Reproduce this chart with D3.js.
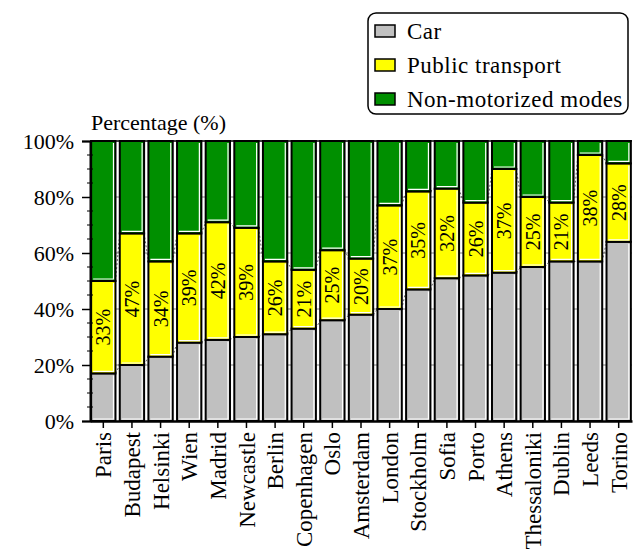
<!DOCTYPE html>
<html>
<head>
<meta charset="utf-8">
<script src="https://cdn.jsdelivr.net/npm/d3@7"></script>
<style>
  html, body { margin: 0; padding: 0; background: #fff; }
  svg { display: block; }
  svg text { font-family: "Liberation Serif", "DejaVu Serif", serif !important; fill: #000; }
</style>
</head>
<body>
<svg id="chart" width="640" height="552"></svg>
<script>
const cities = ["Paris","Budapest","Helsinki","Wien","Madrid","Newcastle","Berlin","Copenhagen","Oslo","Amsterdam","London","Stockholm","Sofia","Porto","Athens","Thessaloniki","Dublin","Leeds","Torino"];
const carShare = [17,20,23,28,29,30,31,33,36,38,40,47,51,52,53,55,57,57,64];
const publicShare = [33,47,34,39,42,39,26,21,25,20,37,35,32,26,37,25,21,38,28];
const nonMotorShare = carShare.map((c, i) => 100 - c - publicShare[i]);
const seriesNames = ["Car", "Public transport", "Non-motorized modes"];
const seriesColors = ["#c0c0c0", "#ffff00", "#008f00"];
const yTicks = [0, 20, 40, 60, 80, 100];
const yMinorTicks = d3.range(0, 101, 5);
const yTitle = "Percentage (%)";

const svg = d3.select("#chart");
const mLeft = 90, mRight = 632, mTop = 141, mBottom = 421;

const x = d3.scaleBand().domain(cities).range([mLeft, mRight]).paddingInner(0.15).paddingOuter(0.04);
const y = d3.scaleLinear().domain([0, 100]).range([mBottom, mTop]);
const bw = x.bandwidth();

// gridlines
svg.append("g").selectAll("line").data(yTicks.filter(t => t > 0 && t < 100)).join("line")
  .attr("x1", mLeft).attr("x2", mRight).attr("y1", d => y(d)).attr("y2", d => y(d))
  .attr("stroke", "#808080").attr("stroke-width", 1);
svg.append("line").attr("x1", mLeft).attr("x2", mRight).attr("y1", y(100)).attr("y2", y(100))
  .attr("stroke", "#000").attr("stroke-width", 1.5);

// stacked data
const rows = cities.map((c, i) => ({ city: c, values: [carShare[i], publicShare[i], nonMotorShare[i]] }));
const segs = [];
rows.forEach(r => {
  let acc = 0;
  r.values.forEach((v, k) => { segs.push({ city: r.city, k, y0: acc, y1: acc + v, v }); acc += v; });
});

// series (dashed) lines connecting tops of car and public transport
const lineGroup = svg.append("g");
[0, 1].forEach(k => {
  for (let i = 0; i < cities.length - 1; i++) {
    const a = k === 0 ? carShare[i] : carShare[i] + publicShare[i];
    const b = k === 0 ? carShare[i + 1] : carShare[i + 1] + publicShare[i + 1];
    lineGroup.append("line")
      .attr("x1", x(cities[i]) + bw).attr("y1", y(a))
      .attr("x2", x(cities[i + 1])).attr("y2", y(b))
      .attr("stroke", "#666").attr("stroke-width", 1).attr("stroke-dasharray", "2,2");
  }
});

const barG = svg.append("g");
barG.selectAll("rect").data(segs).join("rect")
  .attr("x", d => x(d.city)).attr("y", d => y(d.y1))
  .attr("width", bw).attr("height", d => y(d.y0) - y(d.y1))
  .attr("fill", d => seriesColors[d.k])
  .attr("stroke", "#000").attr("stroke-width", 2);
// inner white highlight on right and bottom
barG.selectAll("path").data(segs).join("path")
  .attr("d", d => {
    const x0 = x(d.city), xr = x0 + bw - 2, yt = y(d.y1) + 2, yb = y(d.y0) - 2;
    return `M${x0 + 2},${yb}L${xr},${yb}L${xr},${yt}`;
  })
  .attr("fill", "none").attr("stroke", "#fff").attr("stroke-width", 1.2);

// public transport labels
svg.append("g").selectAll("text").data(segs.filter(d => d.k === 1)).join("text")
  .attr("transform", d => `translate(${x(d.city) + bw / 2},${y((d.y0 + d.y1) / 2)}) rotate(-90)`)
  .attr("text-anchor", "middle").attr("dy", "0.35em")
  .attr("font-size", 20)
  .text(d => d.v + "%");

// y axis
const yAxis = svg.append("g").attr("transform", `translate(${mLeft},0)`)
  .call(d3.axisLeft(y).tickValues(yTicks).tickFormat(d => d + "%").tickSize(8).tickPadding(8));
yAxis.attr("font-family", null);
yAxis.select(".domain").attr("stroke-width", 2);
yAxis.selectAll(".tick line").attr("stroke-width", 1.5);
yAxis.selectAll(".tick text").attr("font-size", 22);
svg.append("g").selectAll("line").data(yMinorTicks.filter(t => t % 20 !== 0)).join("line")
  .attr("x1", mLeft - 3).attr("x2", mLeft + 3).attr("y1", d => y(d)).attr("y2", d => y(d))
  .attr("stroke", "#000").attr("stroke-width", 1);

// x axis
const xAxis = svg.append("g").attr("transform", `translate(0,${mBottom})`)
  .call(d3.axisBottom(x).tickSize(7).tickSizeOuter(0).tickPadding(10));
xAxis.attr("font-family", null);
xAxis.select(".domain").attr("stroke-width", 2.5);
xAxis.selectAll(".tick line").attr("stroke-width", 1.5);
xAxis.selectAll(".tick text")
  .attr("font-size", 23)
  .attr("text-anchor", "end")
  .attr("transform", "rotate(-90)")
  .attr("x", -11).attr("y", 0).attr("dy", "0.35em");

// y title
svg.append("text").attr("x", 91).attr("y", 130).attr("font-size", 22).text(yTitle);

// legend
const lg = svg.append("g");
lg.append("rect").attr("x", 368).attr("y", 13).attr("width", 260).attr("height", 101)
  .attr("rx", 8).attr("fill", "#fff").attr("stroke", "#000").attr("stroke-width", 1.5);
const rowsY = [31, 65, 99];
seriesNames.forEach((n, i) => {
  lg.append("rect").attr("x", 375).attr("y", rowsY[i] - 6).attr("width", 20).attr("height", 12)
    .attr("fill", seriesColors[i]).attr("stroke", "#000").attr("stroke-width", 1.5);
  lg.append("text").attr("x", 407).attr("y", rowsY[i]).attr("dy", "0.35em")
    .attr("font-size", 23).attr("letter-spacing", 0.5).text(n);
});
</script>
</body>
</html>
